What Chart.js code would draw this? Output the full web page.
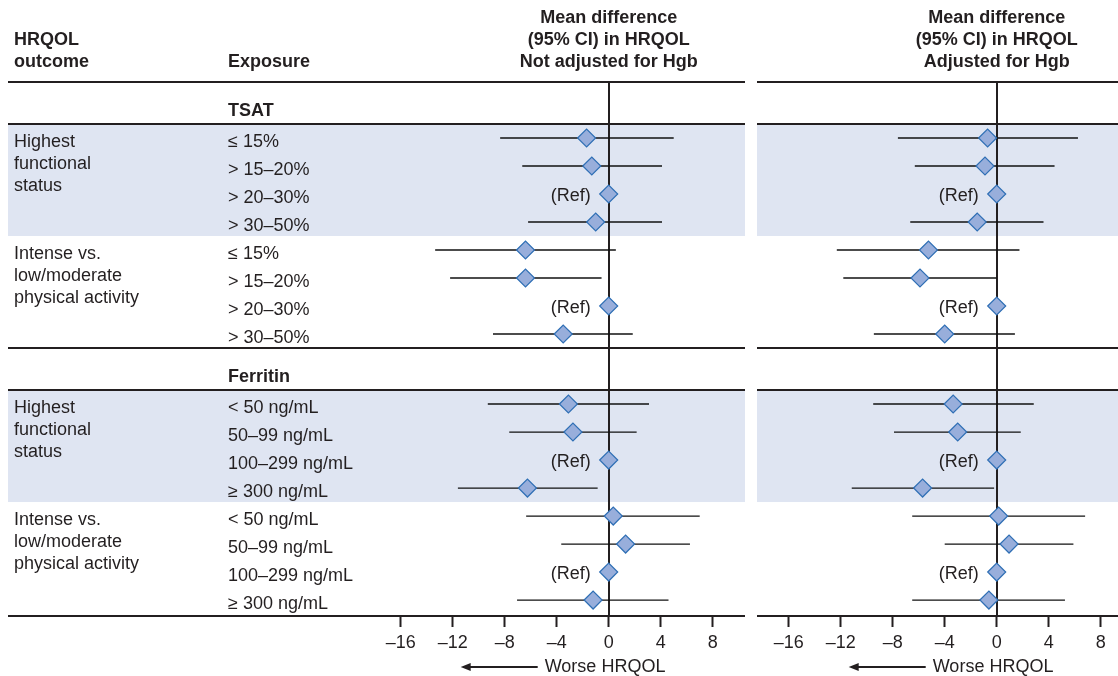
<!DOCTYPE html>
<html>
<head>
<meta charset="utf-8">
<script src="https://cdn.jsdelivr.net/npm/chart.js@4.4.0/dist/chart.umd.min.js"></script>
<style>
  html, body { margin: 0; padding: 0; background: #fff; }
  #wrap { position: relative; width: 1118px; height: 676px; }
  #left { position: absolute; left: 0; top: 0; }
  #right { position: absolute; left: 750px; top: 0; }
</style>
</head>
<body>
<div id="wrap">
  <canvas id="left" width="750" height="676"></canvas>
  <canvas id="right" width="368" height="676"></canvas>
</div>
<script>
// ---- data ----
const biomarkers = ['TSAT', 'Ferritin'];
const outcomes = [['Highest', 'functional', 'status'], ['Intense vs.', 'low/moderate', 'physical activity']];
const tsatExposure = ['≤ 15%', '> 15–20%', '> 20–30%', '> 30–50%'];
const ferritinExposure = ['< 50 ng/mL', '50–99 ng/mL', '100–299 ng/mL', '≥ 300 ng/mL'];
const refLevel = 2; // index of reference level inside each group of 4

const tickValues = [-16, -12, -8, -4, 0, 4, 8];
const titleUnadj = ['Mean difference', '(95% CI) in HRQOL', 'Not adjusted for Hgb'];
const titleAdj = ['Mean difference', '(95% CI) in HRQOL', 'Adjusted for Hgb'];

// order: TSAT/highest, TSAT/intense, Ferritin/highest, Ferritin/intense (4 levels each)
const unadjEst = [-1.7, -1.3, 0, -1.0, -6.4, -6.4, 0, -3.5, -3.1, -2.75, 0, -6.25, 0.35, 1.3, 0, -1.2];
const unadjLo = [-8.35, -6.65, null, -6.2, -13.35, -12.2, null, -8.9, -9.3, -7.65, null, -11.6, -6.35, -3.65, null, -7.05];
const unadjHi = [5.0, 4.1, null, 4.1, 0.55, -0.55, null, 1.85, 3.1, 2.15, null, -0.85, 7.0, 6.25, null, 4.6];

const adjEst = [-0.7, -0.9, 0, -1.5, -5.25, -5.9, 0, -4.0, -3.35, -3.0, 0, -5.7, 0.15, 0.95, 0, -0.6];
const adjLo = [-7.6, -6.3, null, -6.65, -12.3, -11.8, null, -9.45, -9.5, -7.9, null, -11.15, -6.5, -4.0, null, -6.5];
const adjHi = [6.25, 4.45, null, 3.6, 1.75, 0.0, null, 1.4, 2.85, 1.85, null, -0.2, 6.8, 5.9, null, 5.25];

// ---- layout helpers ----
const FONT = "'Liberation Sans', Arial, Helvetica, sans-serif";
const INK = '#231f20';
const SHADE = '#dfe5f2';

// row index on the y scale; second biomarker block sits 1.5 rows lower (header row)
function rowY(i) { return i < 8 ? i : i + 1.5; }
const exposureLabels = [...tsatExposure, ...tsatExposure, ...ferritinExposure, ...ferritinExposure];

function tableDecor(panel) {
  return {
    id: 'tableDecor',
    beforeDatasetsDraw(chart) {
      const { ctx, chartArea } = chart;
      const x = chart.scales.x, y = chart.scales.y;
      ctx.save();
      // shaded "highest functional status" bands
      ctx.fillStyle = SHADE;
      [[-0.5, 3.5], [9, 13]].forEach(([a, b]) => {
        const ya = y.getPixelForValue(a), yb = y.getPixelForValue(b);
        ctx.fillRect(panel.x0, ya, panel.x1 - panel.x0, yb - ya);
      });
      // zero line
      ctx.strokeStyle = INK;
      ctx.lineWidth = 2;
      const x0 = Math.round(x.getPixelForValue(0));
      ctx.beginPath();
      ctx.moveTo(x0, chartArea.top);
      ctx.lineTo(x0, chartArea.bottom);
      ctx.stroke();
      // horizontal rules
      [y.min, -0.5, 7.5, 9, y.max].forEach(r => {
        const yy = Math.round(y.getPixelForValue(r));
        ctx.beginPath();
        ctx.moveTo(panel.x0, yy);
        ctx.lineTo(panel.x1, yy);
        ctx.stroke();
      });
      ctx.restore();
    },
    afterDraw(chart) {
      const { ctx } = chart;
      const x = chart.scales.x, y = chart.scales.y;
      const zx = x.getPixelForValue(0);
      ctx.save();
      ctx.fillStyle = INK;
      ctx.textBaseline = 'middle';
      // panel title
      ctx.font = 'bold 18px ' + FONT;
      ctx.textAlign = 'center';
      panel.title.forEach((t, k) => ctx.fillText(t, zx, 18 + k * 22));
      // (Ref) labels
      ctx.font = '18px ' + FONT;
      ctx.textAlign = 'right';
      exposureLabels.forEach((_, i) => {
        if (i % 4 === refLevel) ctx.fillText('(Ref)', zx - 18, y.getPixelForValue(rowY(i)) + 2);
      });
      // worse HRQOL arrow
      const ay = 667;
      ctx.strokeStyle = INK;
      ctx.lineWidth = 2;
      ctx.beginPath();
      ctx.moveTo(zx - 139, ay);
      ctx.lineTo(zx - 71, ay);
      ctx.stroke();
      ctx.beginPath();
      ctx.moveTo(zx - 148, ay);
      ctx.lineTo(zx - 138, ay - 4);
      ctx.lineTo(zx - 138, ay + 4);
      ctx.closePath();
      ctx.fill();
      ctx.textAlign = 'left';
      ctx.fillText('Worse HRQOL', zx - 64, ay);

      if (panel.labels) {
        // column headers
        ctx.font = 'bold 18px ' + FONT;
        ctx.fillText('HRQOL', 14, 40);
        ctx.fillText('outcome', 14, 62);
        ctx.fillText('Exposure', 228, 62);
        biomarkers.forEach((b, s) => {
          ctx.fillText(b, 228, y.getPixelForValue(rowY(s * 8) - 1) + 1);
        });
        ctx.font = '18px ' + FONT;
        exposureLabels.forEach((lab, i) => {
          ctx.fillText(lab, 228, y.getPixelForValue(rowY(i)) + 4);
        });
        [0, 4, 8, 12].forEach((start, g) => {
          const top = y.getPixelForValue(rowY(start)) + 4;
          outcomes[g % 2].forEach((line, k) => ctx.fillText(line, 14, top + k * 22));
        });
      }
      ctx.restore();
    }
  };
}

function makeChart(canvasId, est, lo, hi, panel) {
  const datasets = [{
    label: 'estimate',
    data: est.map((v, i) => ({ x: v, y: rowY(i) })),
    pointStyle: 'rectRot',
    pointRadius: 9,
    pointHoverRadius: 9,
    pointBackgroundColor: '#98aedb',
    pointBorderColor: '#2f6fb5',
    pointBorderWidth: 1.2,
    clip: false,
    order: 0
  }];
  lo.forEach((l, i) => {
    if (l === null) return;
    datasets.push({
      label: 'ci' + i,
      data: [{ x: l, y: rowY(i) }, { x: hi[i], y: rowY(i) }],
      showLine: true,
      borderColor: '#111',
      borderWidth: 1.3,
      pointRadius: 0,
      order: 1
    });
  });

  return new Chart(document.getElementById(canvasId), {
    type: 'scatter',
    data: { datasets },
    options: {
      responsive: false,
      animation: false,
      events: [],
      layout: { padding: panel.padding, autoPadding: false },
      plugins: { legend: { display: false }, tooltip: { enabled: false } },
      scales: {
        x: {
          type: 'linear',
          min: panel.min,
          max: panel.max,
          afterBuildTicks: s => { s.ticks = tickValues.map(v => ({ value: v })); },
          afterFit: s => {
            s.height = 60;
            s.paddingLeft = 0;
            s.paddingRight = 0;
          },
          ticks: {
            callback: v => (v < 0 ? '\u2013' + Math.abs(v) : String(v)),
            font: { size: 18, family: FONT },
            color: INK,
            padding: 5,
            maxRotation: 0,
            autoSkip: false
          },
          grid: { drawOnChartArea: false, drawTicks: true, tickLength: 11, tickWidth: 2, tickColor: INK },
          border: { display: false }
        },
        y: { type: 'linear', reverse: true, min: -2, max: 17.07, display: false }
      }
    },
    plugins: [tableDecor(panel)]
  });
}

makeChart('left', unadjEst, unadjLo, unadjHi, {
  padding: { left: 348.7, right: 4.8, top: 82, bottom: 0 },
  min: -20, max: 10.5, x0: 8, x1: 745, title: titleUnadj, labels: true
});
makeChart('right', adjEst, adjLo, adjHi, {
  padding: { left: 12.7, right: 0, top: 82, bottom: 0 },
  min: -18, max: 9.33, x0: 7, x1: 368, title: titleAdj, labels: false
});
</script>
</body>
</html>
